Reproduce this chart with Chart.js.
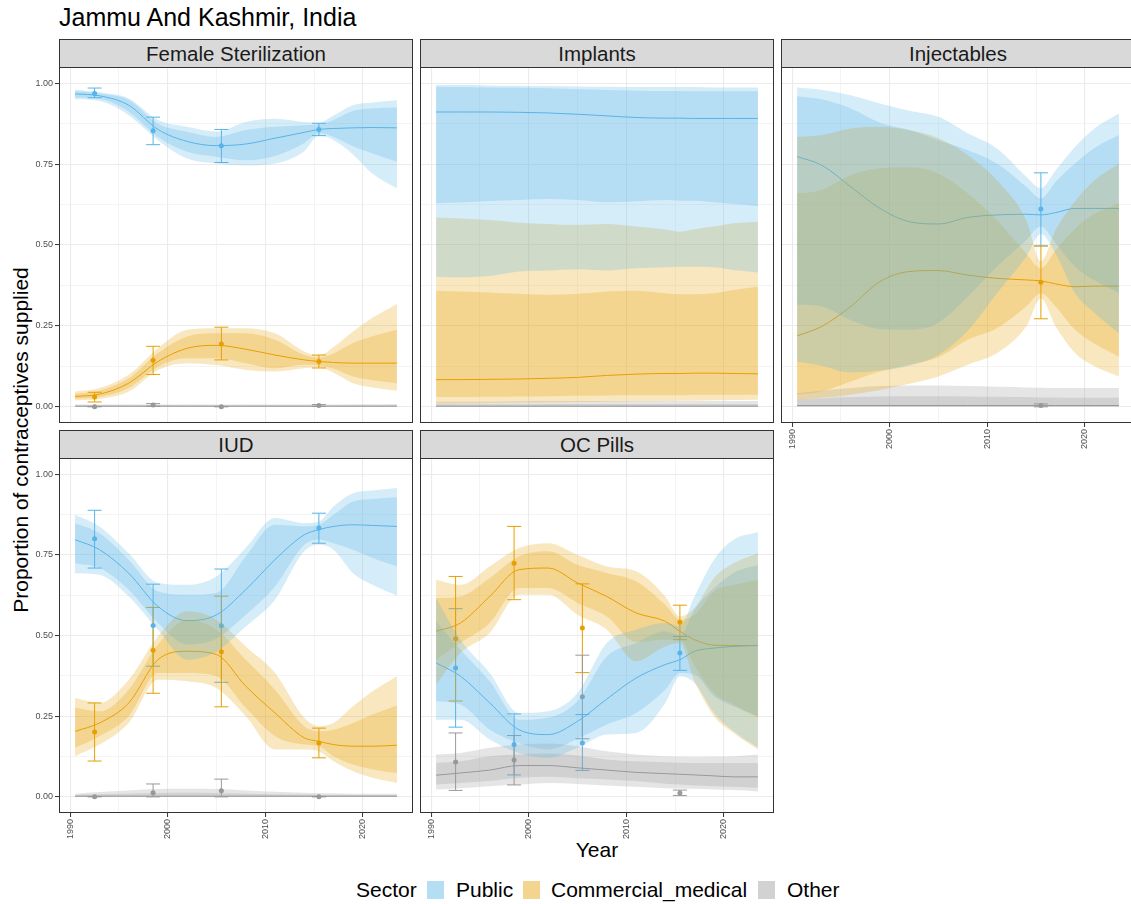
<!DOCTYPE html>
<html>
<head>
<meta charset="utf-8">
<title>Jammu And Kashmir, India</title>
<script src="https://cdn.jsdelivr.net/npm/chart.js@4.4.1/dist/chart.umd.min.js"></script>
<style>
  body {
    margin: 0;
    width: 1131px;
    height: 904px;
    overflow: hidden;
    position: relative;
    background: #fff;
    font-family: "Liberation Sans", Arial, Helvetica, sans-serif;
  }
  canvas { position: absolute; }
  .strip {
    position: absolute;
    box-sizing: border-box;
    width: 354px;
    height: 29px;
    background: #d9d9d9;
    border: 1px solid #333;
    text-align: center;
    font-size: 20.5px;
    line-height: 27px;
    color: #1a1a1a;
  }
  .txt { position: absolute; white-space: nowrap; color: #000; }
  .key { position: absolute; width: 17px; height: 18px; }
</style>
</head>
<body>
<div class="txt" style="left:59px; top:5px; font-size:25px; line-height:25px;">Jammu And Kashmir, India</div>
<div class="txt" style="left:-179px; top:428px; width:400px; height:24px; line-height:24px; font-size:21px; text-align:center; transform:rotate(-90deg);">Proportion of contraceptives supplied</div>
<div class="txt" style="left:497px; top:839px; width:200px; text-align:center; font-size:21px; line-height:21px;">Year</div>

<div class="txt" style="left:356px; top:879px; font-size:21px; line-height:21px;">Sector</div>
<div class="key" style="left:427px; top:881px; background:rgba(86,180,233,0.44);"></div>
<div class="txt" style="left:456px; top:879px; font-size:21px; line-height:21px;">Public</div>
<div class="key" style="left:523px; top:881px; background:rgba(230,159,0,0.44);"></div>
<div class="txt" style="left:551px; top:879px; font-size:21px; line-height:21px;">Commercial_medical</div>
<div class="key" style="left:758px; top:881px; background:rgba(153,153,153,0.44);"></div>
<div class="txt" style="left:787px; top:879px; font-size:21px; line-height:21px;">Other</div>

<script>
// model years; every band row is [lo95, lo80, median, hi80, hi95]
const years = [1990.5, 1993, 1996, 1999, 2002, 2005, 2008, 2011, 2014, 2015.5, 2017, 2019, 2021, 2023.5];
const surveyYears = [1992.5, 1998.5, 2005.5, 2015.5];
const xTicks = [1990, 1995, 2000, 2005, 2010, 2015, 2020];
const yTicks = [0, 0.125, 0.25, 0.375, 0.5, 0.625, 0.75, 0.875, 1];

const fsPublic = [
  [0.950, 0.956, 0.967, 0.976, 0.980],
  [0.945, 0.952, 0.961, 0.968, 0.972],
  [0.901, 0.912, 0.932, 0.948, 0.953],
  [0.824, 0.834, 0.857, 0.875, 0.886],
  [0.767, 0.788, 0.820, 0.850, 0.865],
  [0.752, 0.773, 0.807, 0.834, 0.850],
  [0.746, 0.762, 0.812, 0.855, 0.880],
  [0.752, 0.775, 0.830, 0.865, 0.890],
  [0.790, 0.815, 0.848, 0.870, 0.880],
  [0.838, 0.845, 0.857, 0.872, 0.878],
  [0.824, 0.834, 0.860, 0.886, 0.900],
  [0.780, 0.805, 0.862, 0.915, 0.932],
  [0.720, 0.783, 0.863, 0.922, 0.940],
  [0.675, 0.757, 0.862, 0.925, 0.947]
];
const fsCommercial = [
  [0.020, 0.024, 0.032, 0.040, 0.047],
  [0.024, 0.030, 0.039, 0.050, 0.058],
  [0.047, 0.058, 0.073, 0.088, 0.099],
  [0.114, 0.124, 0.140, 0.166, 0.181],
  [0.135, 0.150, 0.181, 0.217, 0.238],
  [0.129, 0.150, 0.190, 0.227, 0.243],
  [0.114, 0.135, 0.178, 0.227, 0.243],
  [0.109, 0.119, 0.160, 0.207, 0.227],
  [0.119, 0.130, 0.145, 0.160, 0.171],
  [0.122, 0.128, 0.140, 0.152, 0.158],
  [0.105, 0.118, 0.137, 0.165, 0.185],
  [0.073, 0.094, 0.135, 0.197, 0.233],
  [0.060, 0.082, 0.135, 0.218, 0.275],
  [0.050, 0.073, 0.135, 0.238, 0.318]
];
const fsOther = [
  [0, 0.001, 0.002, 0.004, 0.007],
  [0, 0.001, 0.002, 0.004, 0.007],
  [0, 0.001, 0.002, 0.004, 0.007],
  [0, 0.001, 0.002, 0.004, 0.007],
  [0, 0.001, 0.002, 0.004, 0.007],
  [0, 0.001, 0.002, 0.004, 0.007],
  [0, 0.001, 0.002, 0.004, 0.007],
  [0, 0.001, 0.002, 0.004, 0.007],
  [0, 0.001, 0.002, 0.004, 0.007],
  [0, 0.001, 0.002, 0.004, 0.007],
  [0, 0.001, 0.002, 0.004, 0.007],
  [0, 0.001, 0.002, 0.004, 0.008],
  [0, 0.001, 0.002, 0.004, 0.008],
  [0, 0.001, 0.002, 0.005, 0.009]
];

const impPublic = [
  [0.402, 0.629, 0.911, 0.989, 0.994],
  [0.400, 0.631, 0.911, 0.988, 0.994],
  [0.404, 0.636, 0.911, 0.987, 0.993],
  [0.418, 0.639, 0.910, 0.986, 0.992],
  [0.421, 0.642, 0.908, 0.984, 0.991],
  [0.425, 0.639, 0.904, 0.981, 0.990],
  [0.421, 0.632, 0.899, 0.979, 0.989],
  [0.428, 0.635, 0.894, 0.977, 0.988],
  [0.431, 0.639, 0.892, 0.976, 0.988],
  [0.433, 0.637, 0.892, 0.976, 0.988],
  [0.433, 0.637, 0.891, 0.975, 0.988],
  [0.431, 0.632, 0.891, 0.975, 0.987],
  [0.423, 0.627, 0.891, 0.975, 0.987],
  [0.415, 0.620, 0.891, 0.975, 0.987]
];
const impCommercial = [
  [0.010, 0.030, 0.084, 0.359, 0.585],
  [0.011, 0.030, 0.084, 0.356, 0.582],
  [0.012, 0.031, 0.085, 0.353, 0.577],
  [0.013, 0.032, 0.086, 0.349, 0.569],
  [0.014, 0.033, 0.088, 0.346, 0.565],
  [0.015, 0.034, 0.091, 0.349, 0.562],
  [0.016, 0.035, 0.097, 0.356, 0.565],
  [0.017, 0.036, 0.101, 0.359, 0.557],
  [0.018, 0.036, 0.103, 0.351, 0.548],
  [0.019, 0.036, 0.103, 0.348, 0.541],
  [0.019, 0.037, 0.104, 0.348, 0.549],
  [0.020, 0.037, 0.104, 0.351, 0.557],
  [0.021, 0.037, 0.103, 0.361, 0.567],
  [0.022, 0.037, 0.102, 0.371, 0.572]
];
const impOther = [
  [0, 0.0005, 0.002, 0.008, 0.016],
  [0, 0.0005, 0.002, 0.008, 0.016],
  [0, 0.0005, 0.002, 0.008, 0.016],
  [0, 0.0005, 0.002, 0.008, 0.017],
  [0, 0.0005, 0.002, 0.009, 0.018],
  [0, 0.0005, 0.002, 0.009, 0.018],
  [0, 0.0005, 0.002, 0.009, 0.018],
  [0, 0.0005, 0.002, 0.009, 0.018],
  [0, 0.0005, 0.002, 0.009, 0.018],
  [0, 0.0005, 0.002, 0.009, 0.018],
  [0, 0.0005, 0.002, 0.009, 0.018],
  [0, 0.0005, 0.002, 0.009, 0.018],
  [0, 0.0005, 0.002, 0.009, 0.018],
  [0, 0.0005, 0.002, 0.009, 0.018]
];

const injPublic = [
  [0.140, 0.315, 0.773, 0.960, 0.987],
  [0.127, 0.310, 0.747, 0.950, 0.980],
  [0.106, 0.268, 0.680, 0.922, 0.963],
  [0.112, 0.240, 0.613, 0.878, 0.937],
  [0.127, 0.238, 0.572, 0.855, 0.915],
  [0.160, 0.260, 0.565, 0.824, 0.896],
  [0.235, 0.340, 0.585, 0.793, 0.845],
  [0.351, 0.433, 0.593, 0.752, 0.798],
  [0.464, 0.515, 0.595, 0.680, 0.711],
  [0.534, 0.557, 0.593, 0.644, 0.675],
  [0.474, 0.505, 0.600, 0.695, 0.730],
  [0.351, 0.433, 0.613, 0.752, 0.803],
  [0.290, 0.390, 0.613, 0.800, 0.860],
  [0.227, 0.351, 0.613, 0.840, 0.906]
];
const injCommercial = [
  [0.020, 0.037, 0.219, 0.660, 0.834],
  [0.027, 0.047, 0.248, 0.670, 0.840],
  [0.037, 0.078, 0.310, 0.716, 0.860],
  [0.052, 0.109, 0.387, 0.737, 0.865],
  [0.071, 0.130, 0.418, 0.740, 0.855],
  [0.094, 0.153, 0.421, 0.721, 0.830],
  [0.130, 0.207, 0.407, 0.660, 0.778],
  [0.166, 0.243, 0.397, 0.577, 0.700],
  [0.248, 0.310, 0.392, 0.474, 0.577],
  [0.335, 0.351, 0.389, 0.428, 0.449],
  [0.250, 0.310, 0.380, 0.484, 0.546],
  [0.166, 0.238, 0.371, 0.551, 0.635],
  [0.125, 0.195, 0.373, 0.597, 0.700],
  [0.094, 0.155, 0.373, 0.629, 0.752]
];
const injOther = [
  [0, 0.001, 0.004, 0.022, 0.042],
  [0, 0.001, 0.004, 0.026, 0.050],
  [0, 0.001, 0.004, 0.030, 0.058],
  [0, 0.001, 0.004, 0.032, 0.064],
  [0, 0.001, 0.004, 0.033, 0.066],
  [0, 0.001, 0.004, 0.033, 0.066],
  [0, 0.001, 0.004, 0.032, 0.064],
  [0, 0.001, 0.004, 0.031, 0.062],
  [0, 0.001, 0.004, 0.030, 0.060],
  [0, 0.001, 0.004, 0.029, 0.059],
  [0, 0.001, 0.004, 0.029, 0.058],
  [0, 0.001, 0.004, 0.028, 0.058],
  [0, 0.001, 0.004, 0.028, 0.058],
  [0, 0.001, 0.004, 0.028, 0.058]
];

const iudPublic = [
  [0.693, 0.724, 0.797, 0.848, 0.874],
  [0.688, 0.709, 0.766, 0.817, 0.838],
  [0.621, 0.642, 0.693, 0.735, 0.755],
  [0.518, 0.539, 0.590, 0.637, 0.663],
  [0.425, 0.472, 0.546, 0.626, 0.657],
  [0.450, 0.490, 0.564, 0.632, 0.683],
  [0.528, 0.564, 0.642, 0.745, 0.771],
  [0.611, 0.652, 0.735, 0.843, 0.864],
  [0.761, 0.781, 0.812, 0.838, 0.848],
  [0.781, 0.797, 0.828, 0.843, 0.853],
  [0.766, 0.786, 0.838, 0.874, 0.900],
  [0.693, 0.766, 0.843, 0.915, 0.941],
  [0.657, 0.740, 0.841, 0.923, 0.949],
  [0.623, 0.714, 0.838, 0.928, 0.957]
];
const iudCommercial = [
  [0.126, 0.152, 0.203, 0.276, 0.306],
  [0.162, 0.188, 0.229, 0.265, 0.291],
  [0.229, 0.250, 0.291, 0.332, 0.363],
  [0.363, 0.384, 0.425, 0.472, 0.497],
  [0.358, 0.384, 0.451, 0.549, 0.575],
  [0.337, 0.374, 0.441, 0.518, 0.549],
  [0.250, 0.276, 0.343, 0.425, 0.466],
  [0.147, 0.188, 0.260, 0.332, 0.384],
  [0.147, 0.162, 0.183, 0.219, 0.245],
  [0.141, 0.157, 0.172, 0.203, 0.219],
  [0.110, 0.126, 0.162, 0.208, 0.229],
  [0.079, 0.100, 0.157, 0.229, 0.281],
  [0.059, 0.085, 0.157, 0.255, 0.327],
  [0.043, 0.074, 0.160, 0.283, 0.374]
];
const iudOther = [
  [0, 0.001, 0.002, 0.006, 0.010],
  [0, 0.001, 0.002, 0.008, 0.015],
  [0, 0.001, 0.002, 0.010, 0.020],
  [0, 0.001, 0.002, 0.012, 0.024],
  [0, 0.001, 0.002, 0.013, 0.025],
  [0, 0.001, 0.002, 0.012, 0.024],
  [0, 0.001, 0.002, 0.010, 0.020],
  [0, 0.001, 0.002, 0.008, 0.016],
  [0, 0.001, 0.002, 0.007, 0.013],
  [0, 0.001, 0.002, 0.006, 0.012],
  [0, 0.001, 0.002, 0.006, 0.011],
  [0, 0.001, 0.002, 0.006, 0.010],
  [0, 0.001, 0.002, 0.006, 0.010],
  [0, 0.001, 0.002, 0.006, 0.010]
];

const ocPublic = [
  [0.239, 0.296, 0.415, 0.544, 0.616],
  [0.239, 0.286, 0.374, 0.456, 0.487],
  [0.178, 0.208, 0.291, 0.358, 0.384],
  [0.136, 0.167, 0.208, 0.239, 0.260],
  [0.121, 0.147, 0.193, 0.245, 0.265],
  [0.152, 0.180, 0.234, 0.296, 0.322],
  [0.193, 0.224, 0.303, 0.435, 0.477],
  [0.198, 0.260, 0.368, 0.477, 0.518],
  [0.291, 0.332, 0.410, 0.513, 0.539],
  [0.374, 0.384, 0.425, 0.500, 0.530],
  [0.353, 0.379, 0.451, 0.580, 0.621],
  [0.260, 0.312, 0.461, 0.647, 0.735],
  [0.203, 0.281, 0.466, 0.694, 0.797],
  [0.152, 0.250, 0.469, 0.719, 0.820]
];
const ocCommercial = [
  [0.348, 0.425, 0.513, 0.616, 0.673],
  [0.446, 0.477, 0.539, 0.621, 0.657],
  [0.508, 0.539, 0.621, 0.678, 0.714],
  [0.626, 0.647, 0.704, 0.745, 0.771],
  [0.626, 0.647, 0.709, 0.761, 0.786],
  [0.564, 0.601, 0.663, 0.719, 0.750],
  [0.518, 0.559, 0.621, 0.694, 0.714],
  [0.420, 0.480, 0.570, 0.668, 0.699],
  [0.466, 0.487, 0.544, 0.595, 0.621],
  [0.477, 0.487, 0.513, 0.549, 0.559],
  [0.358, 0.405, 0.487, 0.564, 0.585],
  [0.250, 0.322, 0.470, 0.637, 0.678],
  [0.198, 0.286, 0.469, 0.657, 0.724],
  [0.147, 0.245, 0.469, 0.673, 0.755]
];
const ocOther = [
  [0.023, 0.038, 0.067, 0.105, 0.131],
  [0.027, 0.043, 0.074, 0.110, 0.136],
  [0.033, 0.049, 0.083, 0.126, 0.152],
  [0.038, 0.059, 0.097, 0.131, 0.162],
  [0.043, 0.062, 0.097, 0.134, 0.165],
  [0.040, 0.058, 0.090, 0.128, 0.157],
  [0.035, 0.054, 0.083, 0.116, 0.141],
  [0.031, 0.049, 0.076, 0.110, 0.131],
  [0.027, 0.041, 0.072, 0.107, 0.126],
  [0.026, 0.038, 0.070, 0.106, 0.125],
  [0.025, 0.035, 0.068, 0.105, 0.124],
  [0.023, 0.033, 0.065, 0.105, 0.125],
  [0.021, 0.031, 0.062, 0.105, 0.126],
  [0.017, 0.028, 0.062, 0.105, 0.131]
];

// survey estimates at surveyYears: [value, lower, upper] or null
const fsObsPublic = [[0.968, 0.955, 0.985], [0.853, 0.810, 0.895], [0.807, 0.755, 0.857], [0.857, 0.838, 0.876]];
const fsObsCommercial = [[0.030, 0.015, 0.045], [0.144, 0.100, 0.187], [0.194, 0.145, 0.246], [0.140, 0.120, 0.160]];
const fsObsOther = [[0.000, 0.000, 0.001], [0.006, 0.002, 0.010], [0.000, 0.000, 0.001], [0.004, 0.001, 0.007]];
const injObsPublic = [null, null, null, [0.611, 0.497, 0.723]];
const injObsCommercial = [null, null, null, [0.385, 0.272, 0.497]];
const injObsOther = [null, null, null, [0.004, 0.000, 0.009]];
const iudObsPublic = [[0.800, 0.709, 0.888], [0.531, 0.405, 0.659], [0.530, 0.355, 0.706], [0.833, 0.786, 0.879]];
const iudObsCommercial = [[0.201, 0.111, 0.291], [0.454, 0.321, 0.587], [0.450, 0.279, 0.622], [0.167, 0.121, 0.213]];
const iudObsOther = [[0.000, 0.000, 0.001], [0.013, 0.000, 0.040], [0.019, 0.000, 0.055], [0.000, 0.000, 0.001]];
const ocObsPublic = [[0.399, 0.216, 0.583], [0.162, 0.068, 0.257], [0.167, 0.082, 0.255], [0.446, 0.392, 0.497]];
const ocObsCommercial = [[0.490, 0.297, 0.683], [0.724, 0.611, 0.838], [0.523, 0.385, 0.660], [0.541, 0.487, 0.594]];
const ocObsOther = [[0.108, 0.020, 0.198], [0.114, 0.037, 0.190], [0.310, 0.180, 0.439], [0.012, 0.004, 0.021]];

const lineColors = ["#56B4E9", "#E69F00", "#999999"];
const bandColors = ["rgba(86,180,233,0.25)", "rgba(230,159,0,0.25)", "rgba(153,153,153,0.25)"];

Chart.defaults.font.family = '"Liberation Sans", Arial, Helvetica, sans-serif';

const panels = [
  { name: "Female Sterilization", left: 59, top: 67, height: 356, yAxis: true, xAxis: false,
    bands: [fsPublic, fsCommercial, fsOther], obs: [fsObsPublic, fsObsCommercial, fsObsOther] },
  { name: "Implants", left: 420, top: 67, height: 356, yAxis: false, xAxis: false,
    bands: [impPublic, impCommercial, impOther], obs: [] },
  { name: "Injectables", left: 781, top: 67, height: 356, yAxis: false, xAxis: true,
    bands: [injPublic, injCommercial, injOther], obs: [injObsPublic, injObsCommercial, injObsOther] },
  { name: "IUD", left: 59, top: 458, height: 355, yAxis: true, xAxis: true,
    bands: [iudPublic, iudCommercial, iudOther], obs: [iudObsPublic, iudObsCommercial, iudObsOther] },
  { name: "OC Pills", left: 420, top: 458, height: 355, yAxis: false, xAxis: true,
    bands: [ocPublic, ocCommercial, ocOther], obs: [ocObsPublic, ocObsCommercial, ocObsOther] }
];

const isMajorX = (v) => v % 10 === 0;
const isMajorY = (v) => Math.abs(v * 4 - Math.round(v * 4)) < 1e-9;

// no label overhang padding: the plot area must fill the canvas exactly
function noPadding(scale) {
  scale.paddingLeft = 0;
  scale.paddingRight = 0;
  scale.paddingTop = 0;
  scale.paddingBottom = 0;
}

// error bars go under everything, the panel border on top
const panelDecor = {
  id: "panelDecor",
  beforeDatasetsDraw(chart) {
    const { ctx, scales } = chart;
    ctx.save();
    ctx.lineWidth = 1;
    chart.data.datasets.forEach((ds) => {
      if (!ds.errorBars) return;
      ctx.strokeStyle = ds.borderColor;
      ds.data.forEach((pt) => {
        const px = scales.x.getPixelForValue(pt.x);
        const top = scales.y.getPixelForValue(pt.hi);
        const bot = scales.y.getPixelForValue(pt.lo);
        ctx.beginPath();
        ctx.moveTo(px, top);
        ctx.lineTo(px, bot);
        ctx.moveTo(px - 7, top);
        ctx.lineTo(px + 7, top);
        ctx.moveTo(px - 7, bot);
        ctx.lineTo(px + 7, bot);
        ctx.stroke();
      });
    });
    ctx.restore();
  },
  afterDraw(chart) {
    const { ctx, chartArea: a } = chart;
    ctx.save();
    ctx.strokeStyle = "#333333";
    ctx.lineWidth = 1;
    ctx.strokeRect(a.left + 0.5, a.top + 0.5, a.right - a.left - 1, a.bottom - a.top - 1);
    ctx.restore();
  }
};

function seriesPoints(rows, k) {
  return rows.map((r, i) => ({ x: years[i], y: r[k] }));
}

function drawPanel(p) {
  const ml = p.yAxis ? 45 : 0;
  const mb = p.xAxis ? 40 : 0;

  const strip = document.createElement("div");
  strip.className = "strip";
  strip.style.left = p.left + "px";
  strip.style.top = (p.top - 28) + "px";
  strip.textContent = p.name;
  document.body.appendChild(strip);

  const canvas = document.createElement("canvas");
  canvas.width = 354 + ml;
  canvas.height = p.height + mb;
  canvas.style.left = (p.left - ml) + "px";
  canvas.style.top = p.top + "px";
  document.body.appendChild(canvas);

  const datasets = [];
  p.obs.forEach((obs, s) => {
    datasets.push({
      type: "scatter",
      errorBars: true,
      data: obs
        .map((o, i) => (o ? { x: surveyYears[i], y: o[0], lo: o[1], hi: o[2] } : null))
        .filter(Boolean),
      backgroundColor: lineColors[s],
      borderColor: lineColors[s],
      borderWidth: 0,
      pointRadius: 2.5,
      pointHoverRadius: 0,
      order: 30
    });
  });
  p.bands.forEach((rows, s) => {
    datasets.push({
      data: seriesPoints(rows, 2),
      borderColor: lineColors[s],
      borderWidth: 1,
      pointRadius: 0,
      pointHoverRadius: 0,
      fill: false,
      cubicInterpolationMode: "monotone",
      order: 20
    });
  });
  [[1, 3], [0, 4]].forEach(([lo, hi], b) => {
    p.bands.forEach((rows, s) => {
      datasets.push({
        data: seriesPoints(rows, lo),
        borderColor: "rgba(0,0,0,0)",
        borderWidth: 0,
        pointRadius: 0,
        pointHoverRadius: 0,
        fill: false,
        cubicInterpolationMode: "monotone",
        order: 10 - b
      });
      datasets.push({
        data: seriesPoints(rows, hi),
        borderColor: "rgba(0,0,0,0)",
        borderWidth: 0,
        pointRadius: 0,
        pointHoverRadius: 0,
        fill: "-1",
        backgroundColor: bandColors[s],
        cubicInterpolationMode: "monotone",
        order: 10 - b
      });
    });
  });

  new Chart(canvas, {
    type: "line",
    data: { datasets },
    plugins: [panelDecor],
    options: {
      responsive: false,
      animation: false,
      events: [],
      layout: { padding: 0, autoPadding: false },
      plugins: { legend: { display: false }, tooltip: { enabled: false } },
      scales: {
        x: {
          type: "linear",
          min: 1988.85,
          max: 2025.15,
          afterBuildTicks: (scale) => { scale.ticks = xTicks.map((v) => ({ value: v })); },
          afterFit: (scale) => { scale.height = mb; noPadding(scale); },
          border: { display: false },
          grid: {
            color: "#ebebeb",
            lineWidth: (c) => (c.tick && !isMajorX(c.tick.value) ? 0.55 : 1.1),
            drawTicks: p.xAxis,
            tickLength: 4,
            tickWidth: 1,
            tickColor: (c) => (c.tick && isMajorX(c.tick.value) ? "#333333" : "rgba(0,0,0,0)")
          },
          ticks: {
            display: p.xAxis,
            autoSkip: false,
            minRotation: 90,
            maxRotation: 90,
            padding: 2,
            color: "#4d4d4d",
            font: { size: 9 },
            callback: (v) => (isMajorX(v) ? String(v) : "")
          }
        },
        y: {
          type: "linear",
          min: -0.05,
          max: 1.05,
          afterBuildTicks: (scale) => { scale.ticks = yTicks.map((v) => ({ value: v })); },
          afterFit: (scale) => { scale.width = ml; noPadding(scale); },
          border: { display: false },
          grid: {
            color: "#ebebeb",
            lineWidth: (c) => (c.tick && !isMajorY(c.tick.value) ? 0.55 : 1.1),
            drawTicks: p.yAxis,
            tickLength: 4,
            tickWidth: 1,
            tickColor: (c) => (c.tick && isMajorY(c.tick.value) ? "#333333" : "rgba(0,0,0,0)")
          },
          ticks: {
            display: p.yAxis,
            padding: 2,
            color: "#4d4d4d",
            font: { size: 9 },
            callback: (v) => (isMajorY(v) ? v.toFixed(2) : "")
          }
        }
      }
    }
  });
}

panels.forEach(drawPanel);
</script>
</body>
</html>
